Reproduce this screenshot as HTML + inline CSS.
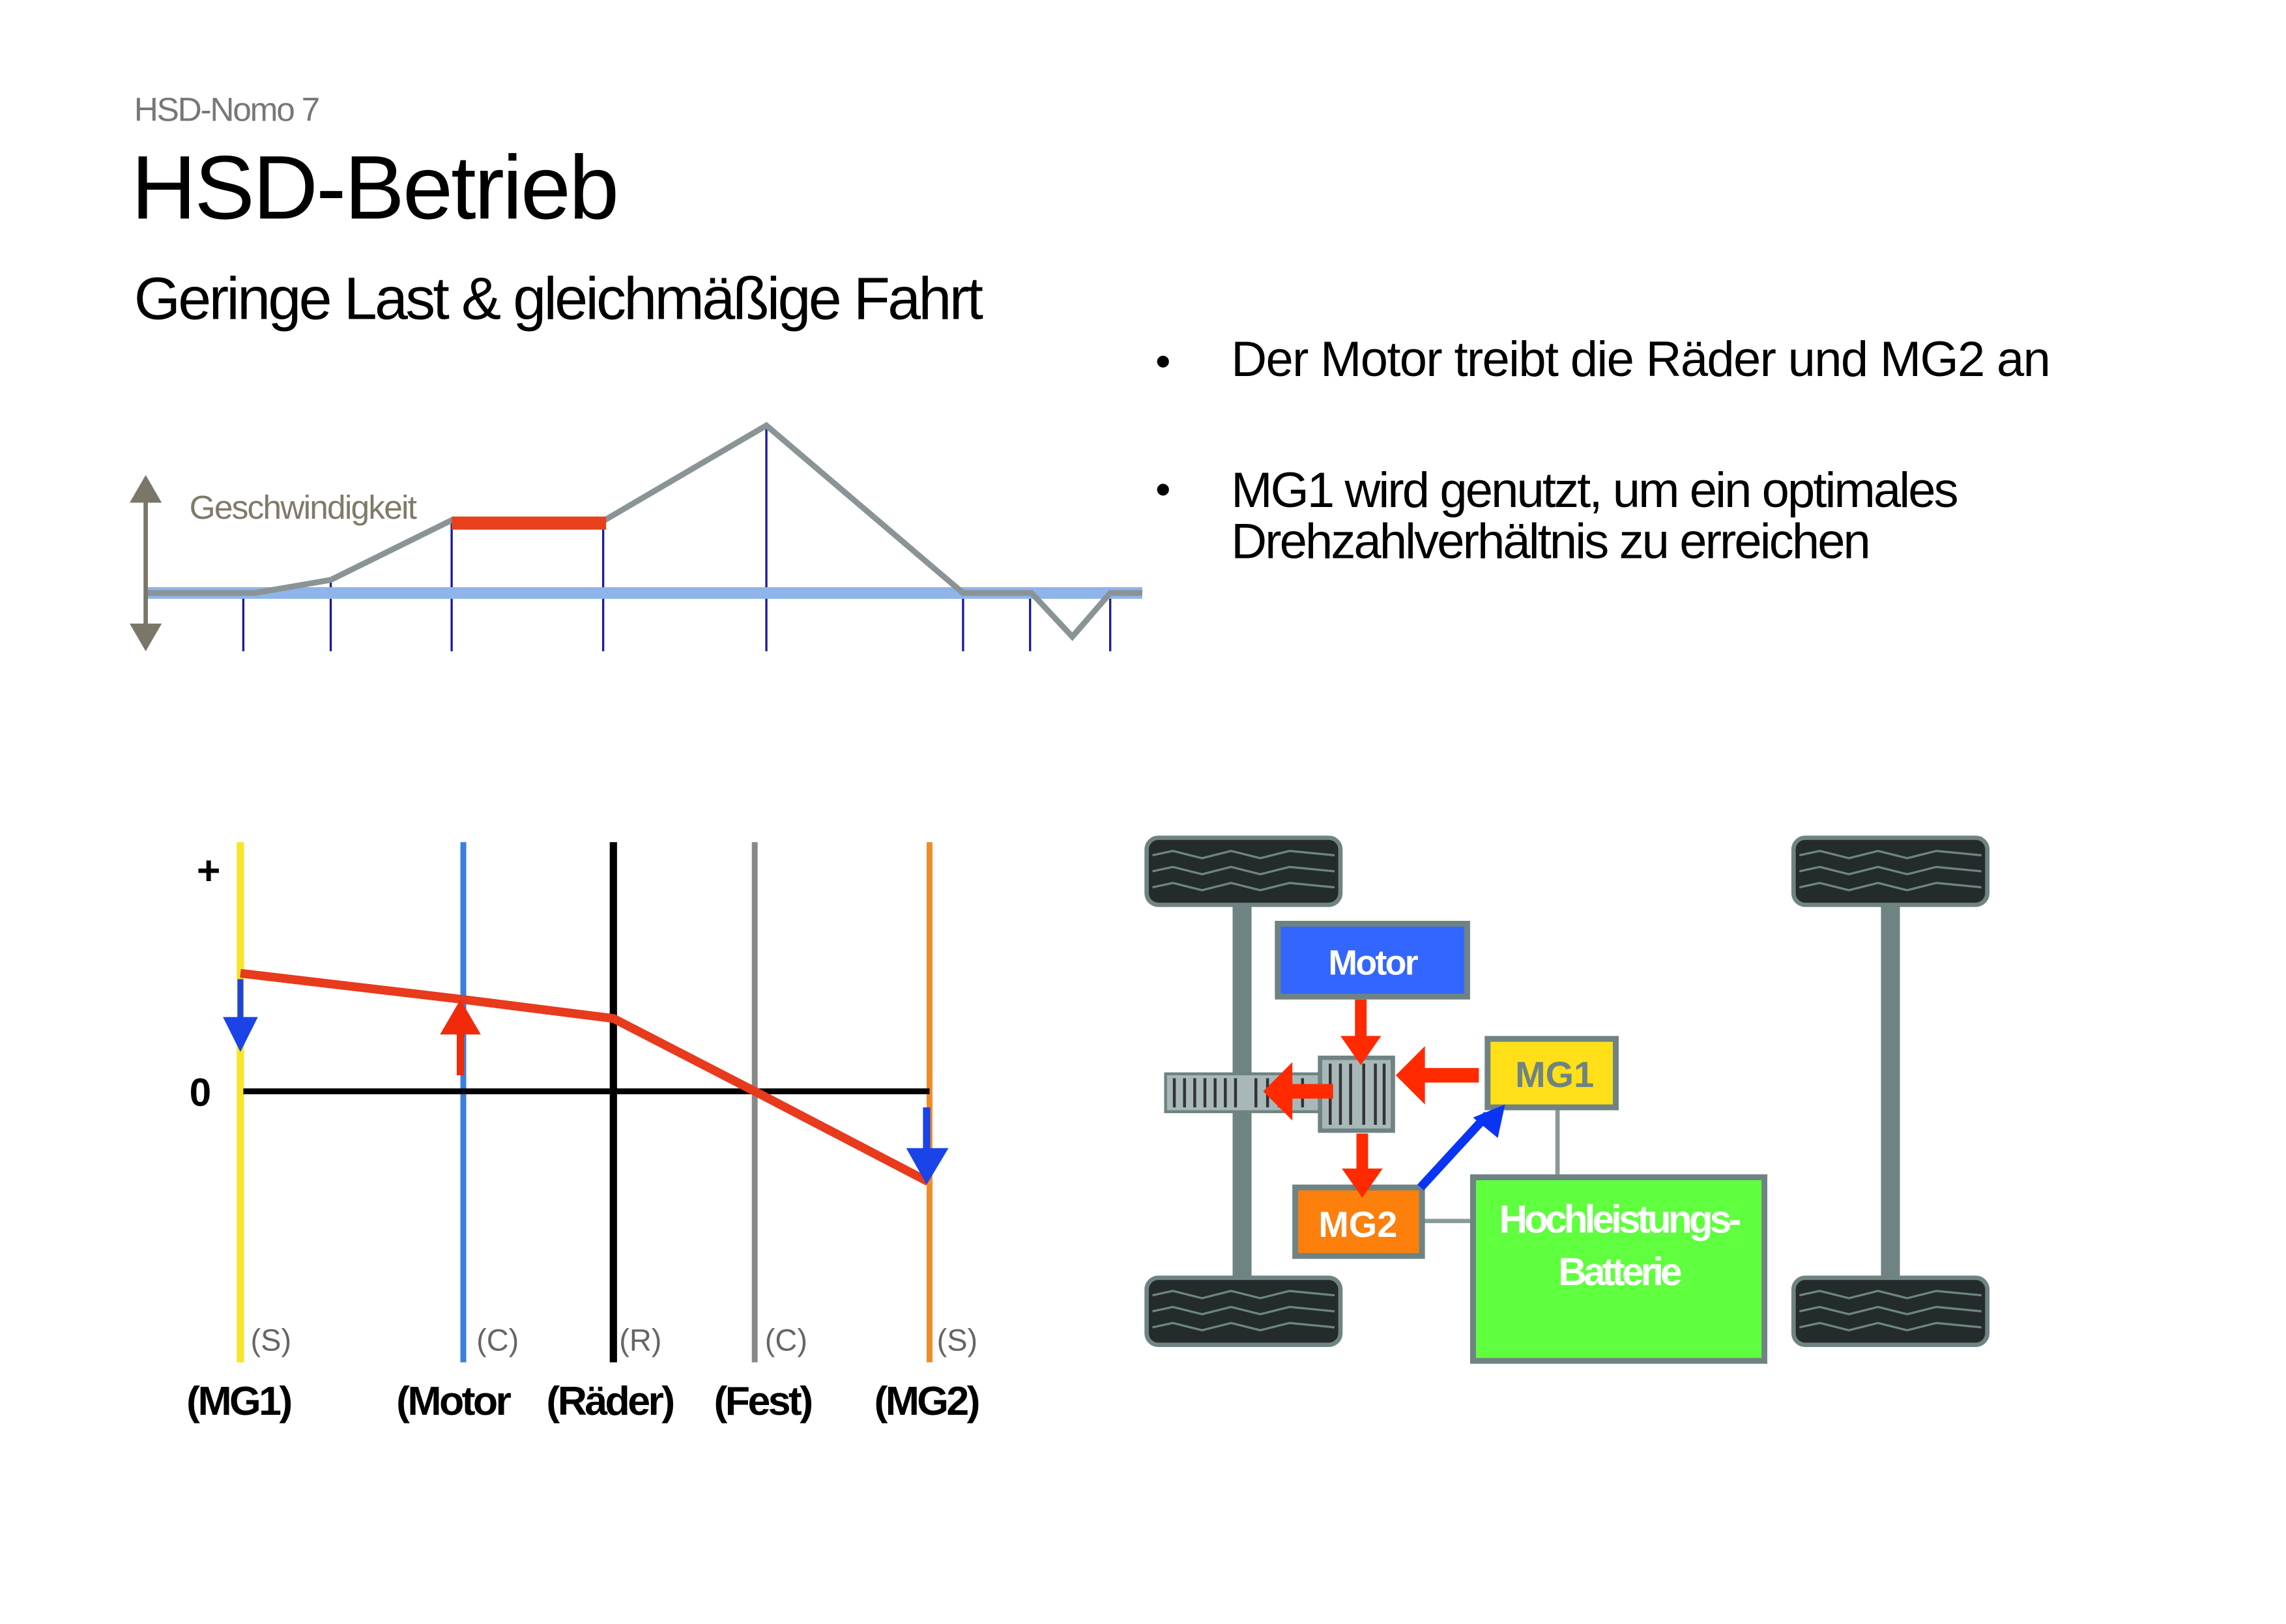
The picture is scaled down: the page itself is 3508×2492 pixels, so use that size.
<!DOCTYPE html>
<html><head><meta charset="utf-8"><style>
html,body{margin:0;padding:0;background:#fff}
svg{display:block}
text{font-family:"Liberation Sans",sans-serif}
</style></head><body>
<svg width="3508" height="2492" viewBox="0 0 1569 1114.6" preserveAspectRatio="none" xmlns="http://www.w3.org/2000/svg">
<rect width="1569" height="1114.6" fill="#fff"/>
<text x="92" y="83" font-size="23" fill="#777" letter-spacing="-1.0">HSD-Nomo 7</text>
<text x="90" y="150" font-size="62" fill="#000" letter-spacing="-1.3">HSD-Betrieb</text>
<text x="92" y="219" font-size="41" fill="#000" letter-spacing="-1.65">Geringe Last &amp; gleichmäßige Fahrt</text>
<text x="793" y="258" font-size="30" fill="#000">•</text>
<text x="845" y="258" font-size="34" fill="#000" letter-spacing="-0.75">Der Motor treibt die Räder und MG2 an</text>
<text x="793" y="346" font-size="30" fill="#000">•</text>
<text x="845" y="348" font-size="34" fill="#000" letter-spacing="-1.3">MG1 wird genutzt, um ein optimales</text>
<text x="845" y="383" font-size="34" fill="#000" letter-spacing="-1.3">Drehzahlverhältnis zu erreichen</text>

<g stroke="#1a1aa0" stroke-width="1.5">
<line x1="167" y1="407" x2="167" y2="447"/><line x1="227" y1="398" x2="227" y2="447"/>
<line x1="310" y1="357" x2="310" y2="447"/><line x1="414" y1="357" x2="414" y2="447"/>
<line x1="526" y1="292" x2="526" y2="447"/><line x1="661" y1="407" x2="661" y2="447"/>
<line x1="707" y1="407" x2="707" y2="447"/><line x1="762" y1="407" x2="762" y2="447"/>
</g>
<line x1="100" y1="407" x2="784" y2="407" stroke="#8fb4ea" stroke-width="8"/>
<polyline points="100,407 175,407 227,398 310,357 415,357 526,292 661,407 708,407 736,437 762,407 784,407" fill="none" stroke="#8a9496" stroke-width="4"/>
<line x1="310" y1="359" x2="416" y2="359" stroke="#e8401c" stroke-width="9"/>
<line x1="100" y1="338" x2="100" y2="436" stroke="#7a7668" stroke-width="3"/>
<polygon points="89,345 100,326 111,345" fill="#7a7668"/>
<polygon points="89,428 100,447 111,428" fill="#7a7668"/>
<text x="130" y="356" font-size="23" fill="#807a68" letter-spacing="-0.8">Geschwindigkeit</text>

<line x1="165" y1="578" x2="165" y2="935" stroke="#f6e627" stroke-width="5"/>
<line x1="318" y1="578" x2="318" y2="935" stroke="#3a7fe0" stroke-width="4"/>
<line x1="421" y1="578" x2="421" y2="935" stroke="#000" stroke-width="5"/>
<line x1="518" y1="578" x2="518" y2="935" stroke="#888" stroke-width="4"/>
<line x1="638" y1="578" x2="638" y2="935" stroke="#f08c28" stroke-width="4"/>
<line x1="167" y1="749" x2="638" y2="749" stroke="#000" stroke-width="4"/>
<polyline points="165,668 318,686 421,699 518,749 637,811" fill="none" stroke="#e83a1c" stroke-width="6"/>
<line x1="165" y1="672" x2="165" y2="700" stroke="#1a44e8" stroke-width="4"/>
<polygon points="153,698 177,698 165,722" fill="#1a44e8"/>
<line x1="316" y1="738" x2="316" y2="708" stroke="#f02a0a" stroke-width="5"/>
<polygon points="302,710 330,710 316,686" fill="#f02a0a"/>
<line x1="636" y1="760" x2="636" y2="790" stroke="#1a44e8" stroke-width="5"/>
<polygon points="622,788 651,788 636,813" fill="#1a44e8"/>
<text x="135" y="607" font-size="28" font-weight="bold">+</text>
<text x="130" y="759" font-size="27" font-weight="bold">0</text>
<g font-size="21" fill="#666">
<text x="172" y="927">(S)</text><text x="327" y="927">(C)</text><text x="425" y="927">(R)</text><text x="525" y="927">(C)</text><text x="643" y="927">(S)</text>
</g>
<g font-size="28" font-weight="bold" letter-spacing="-1.6">
<text x="128" y="971">(MG1)</text><text x="272" y="971">(Motor</text><text x="375" y="971">(Räder)</text><text x="490" y="971">(Fest)</text><text x="600" y="971">(MG2)</text>
</g>

<g fill="#6f8383">
<rect x="846" y="615" width="13" height="265"/>
<rect x="1291" y="615" width="13" height="265"/>
</g>
<g id="wheel">
<rect x="787" y="575" width="133" height="46" rx="8" fill="#232b2b" stroke="#6f8383" stroke-width="3"/>
<g fill="none" stroke="#6f8383" stroke-width="1.5">
<polyline points="791,587 805,584 825,589 845,584 865,589 885,584 916,587"/>
<polyline points="791,598 805,595 825,600 845,595 865,600 885,595 916,598"/>
<polyline points="791,609 805,606 825,611 845,606 865,611 885,606 916,609"/>
</g>
</g>
<use href="#wheel" y="302"/>
<use href="#wheel" x="444"/>
<use href="#wheel" x="444" y="302"/>

<line x1="1069" y1="760" x2="1069" y2="810" stroke="#8a9a9a" stroke-width="3"/>
<line x1="976" y1="838" x2="1010" y2="838" stroke="#8a9a9a" stroke-width="3"/>
<rect x="800" y="737" width="155" height="26" fill="#a8b8b8" stroke="#6f8383" stroke-width="2"/>
<g stroke="#333" stroke-width="2">
<line x1="806" y1="740" x2="806" y2="760"/><line x1="813" y1="740" x2="813" y2="760"/><line x1="820" y1="740" x2="820" y2="760"/><line x1="827" y1="740" x2="827" y2="760"/><line x1="834" y1="740" x2="834" y2="760"/><line x1="841" y1="740" x2="841" y2="760"/><line x1="848" y1="740" x2="848" y2="760"/><line x1="862" y1="740" x2="862" y2="760"/><line x1="870" y1="740" x2="870" y2="760"/><line x1="878" y1="740" x2="878" y2="760"/><line x1="886" y1="740" x2="886" y2="760"/><line x1="894" y1="740" x2="894" y2="760"/>
</g>
<rect x="906" y="726" width="50" height="50" fill="#a8b8b8" stroke="#6f8383" stroke-width="3"/>
<g stroke="#333" stroke-width="2">
<line x1="913" y1="730" x2="913" y2="772"/><line x1="920" y1="730" x2="920" y2="772"/><line x1="927" y1="730" x2="927" y2="772"/><line x1="936" y1="730" x2="936" y2="772"/><line x1="944" y1="730" x2="944" y2="772"/><line x1="950" y1="730" x2="950" y2="772"/>
</g>
<rect x="877" y="634" width="130" height="50" fill="#3366ff" stroke="#6f8383" stroke-width="4"/>
<text x="942" y="669" font-size="24" font-weight="bold" fill="#fff" text-anchor="middle" letter-spacing="-1.2">Motor</text>
<rect x="1021" y="713" width="88" height="47" fill="#ffdf17" stroke="#6f8383" stroke-width="4"/>
<text x="1067" y="746" font-size="25" font-weight="bold" fill="#6f8383" text-anchor="middle">MG1</text>
<rect x="889" y="815" width="87" height="47" fill="#fd7f0c" stroke="#6f8383" stroke-width="4"/>
<text x="932" y="849" font-size="25" font-weight="bold" fill="#fff" text-anchor="middle">MG2</text>
<rect x="1011" y="808" width="200" height="126" fill="#5ffe3e" stroke="#6f8383" stroke-width="4"/>
<text x="1111" y="846" font-size="27" font-weight="bold" fill="#fff" text-anchor="middle" letter-spacing="-2.2">Hochleistungs-</text>
<text x="1111" y="882" font-size="27" font-weight="bold" fill="#fff" text-anchor="middle" letter-spacing="-2.2">Batterie</text>
<g fill="#ff2a00">
<rect x="930" y="686" width="8" height="30"/><polygon points="920,711 948,711 934,731"/>
<rect x="931" y="778" width="8" height="28"/><polygon points="921,802 949,802 935,822"/>
<rect x="975" y="733" width="40" height="10"/><polygon points="978,718 978,758 958,738"/>
<rect x="880" y="744" width="35" height="10"/><polygon points="887,729 887,769 867,749"/>
</g>
<line x1="975" y1="815" x2="1021" y2="765" stroke="#0a34f5" stroke-width="6"/>
<polygon points="1011,767 1033,758 1028,781" fill="#0a34f5"/>
</svg>
</body></html>
